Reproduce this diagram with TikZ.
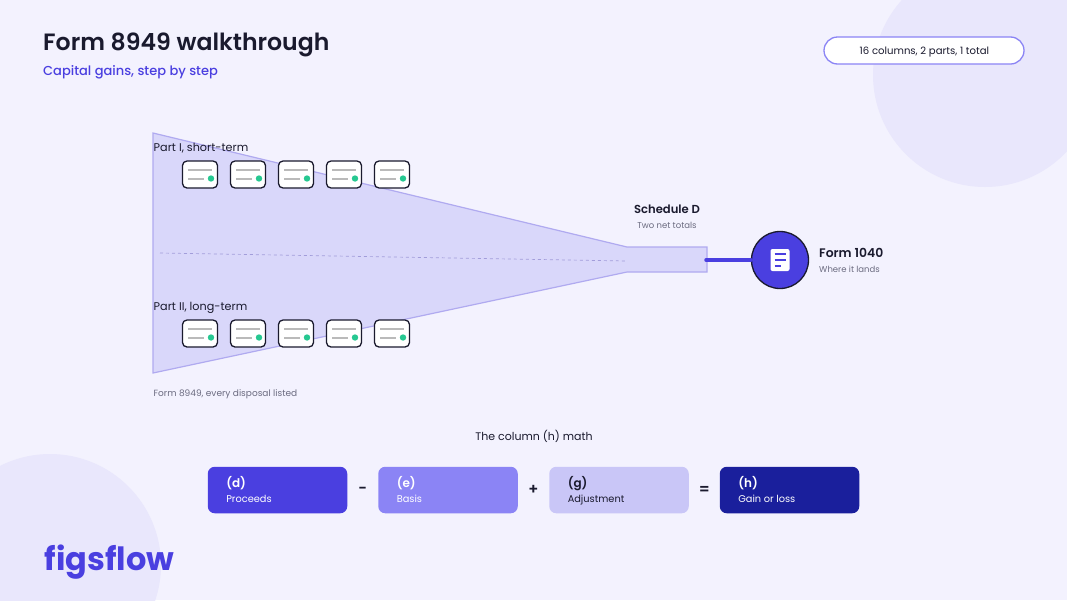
\documentclass[tikz,border=0pt]{standalone}
\usepackage{fontspec}
\setmainfont{Poppins}
\newfontfamily\medfont{Poppins Medium}
\newfontfamily\semifont{Poppins SemiBold}
\usetikzlibrary{positioning, calc}
\definecolor{pagebg}{RGB}{243,242,254}
\definecolor{blobfill}{RGB}{233,231,252}
\definecolor{mainviolet}{RGB}{74,63,224}
\definecolor{midviolet}{RGB}{139,132,245}
\definecolor{paleviolet}{RGB}{201,198,247}
\definecolor{deepblue}{RGB}{26,31,156}
\definecolor{funnelfill}{RGB}{217,215,250}
\definecolor{funneledge}{RGB}{176,170,240}
\definecolor{inkdark}{RGB}{26,26,46}
\definecolor{inkgrey}{RGB}{107,107,128}
\definecolor{dotgreen}{RGB}{38,200,145}
\tikzset{
  fs/.style={font=\fontsize{#1}{#1}\selectfont},
  cardbox/.style={draw=inkdark, line width=1.3pt, fill=white, rounded corners=4.5pt, minimum width=35pt, minimum height=27pt, inner sep=0pt},
  cardline/.style={draw=black!27, line width=1.7pt},
  mathbox/.style={rounded corners=7pt, minimum width=139.5pt, minimum height=46.5pt, inner sep=0pt},
  mathop/.style={text=inkdark, fs=15, inner sep=0pt},
  lbl/.style={inner sep=0pt, anchor=base west}
}
\begin{document}
\begin{tikzpicture}[x=1pt, y=-1pt]
  \useasboundingbox (0,0) rectangle (1067,600);
  % page and blobs
  \fill[pagebg] (0,0) rectangle (1067,600);
  \begin{scope}
    \clip (0,0) rectangle (1067,600);
    \fill[blobfill] (985,75) circle (112);
    \fill[blobfill] (50,565) circle (111);
  \end{scope}

  % header
  \node[lbl, fs=23.6, text=inkdark] (title) at (43,50) {\semifont Form 8949 walkthrough};
  \node[lbl, fs=13, text=mainviolet] (subtitle) at (43,75) {\medfont Capital gains, step by step};
  \node[draw=midviolet, line width=1.3pt, fill=white, rounded corners=13.5pt, minimum width=200pt, minimum height=27pt, inner sep=0pt] (pill) at (924,50.5) {};
  \node[lbl, fs=10.1, text=inkdark] (pilltext) at (859.5,54) {16 columns, 2 parts, 1 total};

  % funnel
  \draw[fill=funnelfill, draw=funneledge, line width=1.2pt] (153,133) -- (627,247) -- (707,247) -- (707,272) -- (627,272) -- (153,373) -- cycle;
  \coordinate (spinestart) at (160,253);
  \coordinate (spineend) at (627,261);
  \draw[funneledge!80!inkgrey, dashed, line width=0.7pt] (spinestart) -- (spineend);

  \node[lbl, fs=11.2, text=inkdark] (partone) at (153.5,151) {Part I, short-term};
  \node[lbl, fs=11.2, text=inkdark] (parttwo) at (153.5,310) {Part II, long-term};
  \node[lbl, fs=9, text=inkgrey] (caption) at (153.5,396) {Form 8949, every disposal listed};

  % two rows of cards
  \foreach \row/\y in {a/174.5, b/333.5} {
    \foreach \i/\x in {1/200, 2/248, 3/296, 4/344, 5/392} {
      \node[cardbox] (card\row\i) at (\x,\y) {};
      \draw[cardline] ($(card\row\i.center)+(-12,-4.2)$) -- ($(card\row\i.center)+(12,-4.2)$);
      \draw[cardline] ($(card\row\i.center)+(-12,4.2)$) -- ($(card\row\i.center)+(4,4.2)$);
      \fill[dotgreen] ($(card\row\i.center)+(11,4)$) circle (3.2);
    }
  }

  % schedule d and form 1040
  \node[fs=11.6, text=inkdark] (schedd) at (667,209) {\semifont Schedule D};
  \node[fs=8.5, text=inkgrey] (schedsub) at (667,225) {Two net totals};
  \coordinate (neck) at (706,260);
  \node[circle, draw=inkdark, line width=1.3pt, fill=mainviolet, minimum size=57pt, inner sep=0pt] (formc) at (780,260) {};
  \draw[mainviolet, line width=3.5pt, line cap=round] (neck) -- (formc);
  \node[fill=white, rounded corners=2pt, minimum width=19pt, minimum height=22pt, inner sep=0pt] (doc) at (780,260) {};
  \draw[mainviolet, line width=1.3pt] ($(doc.center)+(-5.5,-6)$) -- ($(doc.center)+(5.5,-6)$);
  \draw[mainviolet, line width=1.3pt] ($(doc.center)+(-5.5,0)$) -- ($(doc.center)+(5.5,0)$);
  \draw[mainviolet, line width=1.3pt] ($(doc.center)+(-5.5,6)$) -- ($(doc.center)+(1,6)$);
  \node[lbl, fs=12.4, text=inkdark] (formt) at (819,257) {\semifont Form 1040};
  \node[lbl, fs=8.5, text=inkgrey] (forms) at (819,272) {Where it lands};

  % column h math
  \node[fs=11, text=inkdark] (mathtitle) at (534,436) {The column (h) math};
  \foreach \name/\x/\col/\tcol/\big/\small in {
      d/277.5/mainviolet/white/(d)/Proceeds,
      e/448/midviolet/white/(e)/Basis,
      g/619/paleviolet/inkdark/(g)/Adjustment,
      h/789.5/deepblue/white/(h)/Gain or loss} {
    \node[mathbox, fill=\col] (box\name) at (\x,490) {};
    \node[lbl, fs=12, text=\tcol] (big\name) at ($(box\name.west)+(18.5,-3)$) {\semifont\big};
    \node[lbl, fs=9.8, text=\tcol] (small\name) at ($(box\name.west)+(18.5,12.5)$) {\small};
  }
  \node[mathop] (minus) at (362.5,490) {\semifont −};
  \node[mathop] (plus) at (533.5,490) {\semifont +};
  \node[mathop] (equals) at (704.5,490) {\semifont =};

  % logo
  \node[lbl, fs=32, text=mainviolet] (logo) at (44.5,570) {\textbf{figsflow}};
\end{tikzpicture}
\end{document}
